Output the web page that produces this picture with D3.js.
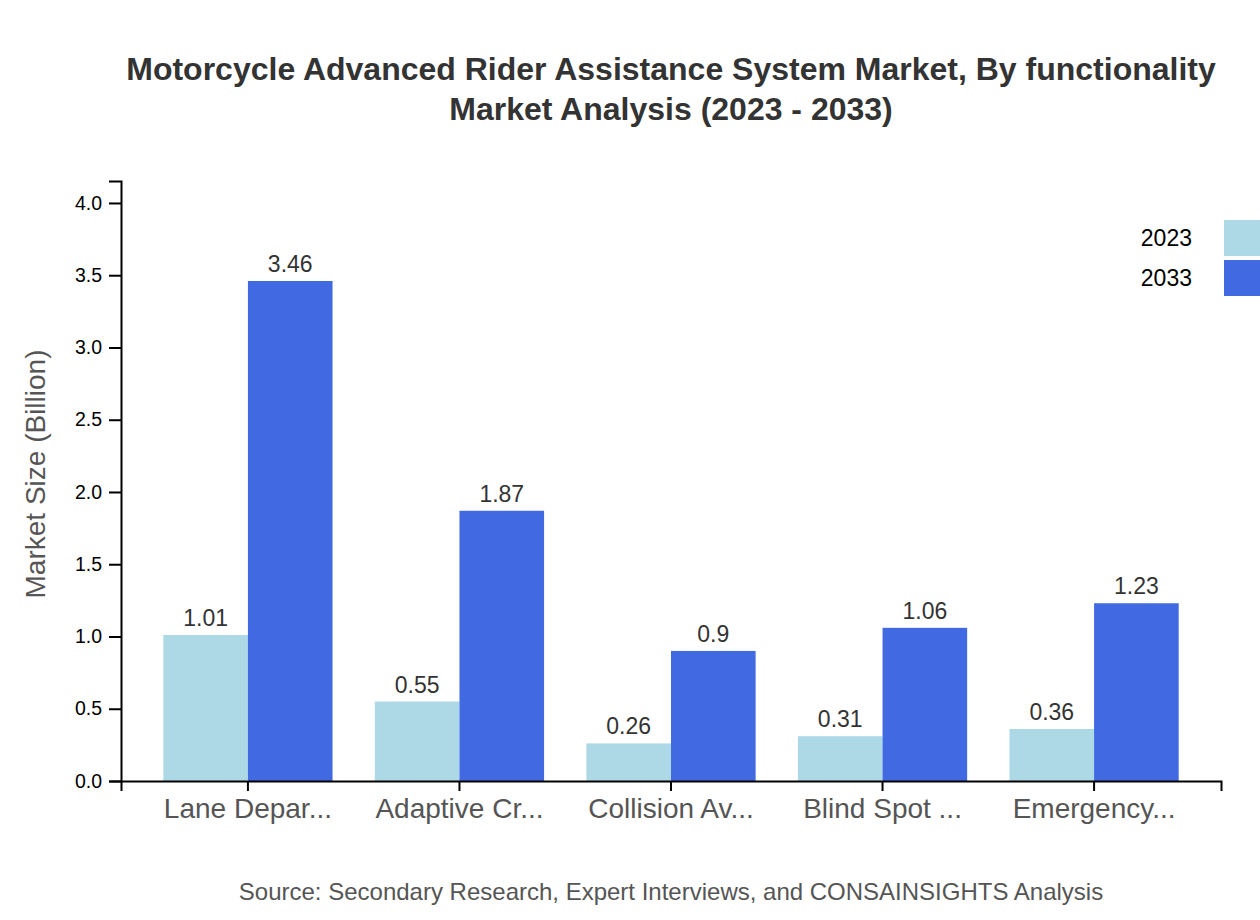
<!DOCTYPE html>
<html lang="en">
<head>
    <meta charset="UTF-8">
    <script src="https://d3js.org/d3.v7.min.js"></script>
    <style>
        body { margin: 0; background: #fff; font-family: 'Liberation Sans', Arial, sans-serif; }
        #chart { width: 1260px; height: 920px; overflow: hidden; }
    </style>
</head>
<body>
    <div id="chart"></div>
    <script>
        // Dados do gráfico
        const categories = ["Lane Depar...", "Adaptive Cr...", "Collision Av...", "Blind Spot ...", "Emergency..."];
        const years = ["2023", "2033"];
        const values2023 = [1.01, 0.55, 0.26, 0.31, 0.36];
        const values2033 = [3.46, 1.87, 0.9, 1.06, 1.23];
        const colors = ["#ADD8E6", "#4169E1"];
        const yTicks = [0, 0.5, 1.0, 1.5, 2.0, 2.5, 3.0, 3.5, 4.0];

        const width = 1260, height = 920;
        const margin = { top: 181, right: 39, bottom: 139, left: 121 };
        const innerW = width - margin.left - margin.right;
        const innerH = height - margin.top - margin.bottom;
        const font = "'Liberation Sans', Arial, sans-serif";

        const svg = d3.select("#chart").append("svg")
            .attr("width", width)
            .attr("height", height);

        const g = svg.append("g")
            .attr("transform", `translate(${margin.left},${margin.top})`);

        const series = [values2023, values2033];
        const maxVal = d3.max(values2033.concat(values2023));

        const x0 = d3.scaleBand().domain(categories).range([0, innerW]).padding(0.2);
        const x1 = d3.scaleBand().domain(years).range([0, x0.bandwidth()]);
        const y = d3.scaleLinear().domain([0, maxVal * 1.2]).range([innerH, 0]);

        // Barras
        const groups = g.selectAll(".group")
            .data(categories)
            .enter().append("g")
            .attr("transform", d => `translate(${x0(d)},0)`);

        groups.selectAll("rect")
            .data((d, i) => years.map((yr, k) => ({ yr, v: series[k][i], k })))
            .enter().append("rect")
            .attr("x", d => x1(d.yr))
            .attr("y", d => y(d.v))
            .attr("width", x1.bandwidth())
            .attr("height", d => innerH - y(d.v))
            .attr("fill", d => colors[d.k]);

        groups.selectAll("text.val")
            .data((d, i) => years.map((yr, k) => ({ yr, v: series[k][i], k })))
            .enter().append("text")
            .attr("class", "val")
            .attr("x", d => x1(d.yr) + x1.bandwidth() / 2)
            .attr("y", d => y(d.v) - 9)
            .attr("text-anchor", "middle")
            .attr("font-size", "23px")
            .attr("fill", "#333")
            .text(d => d.v);

        // Eixos
        const xAxis = g.append("g")
            .attr("transform", `translate(0,${innerH})`)
            .call(d3.axisBottom(x0).tickSize(10).tickPadding(3));
        xAxis.selectAll("path, line").attr("stroke", "#000").attr("stroke-width", 2);
        xAxis.selectAll("text")
            .attr("font-size", "28px")
            .attr("fill", "#555")
            .attr("dy", "24px")
            .style("font-family", font);

        const yAxis = g.append("g")
            .call(d3.axisLeft(y).tickValues(yTicks).tickFormat(d3.format(".1f")).tickSize(12).tickPadding(7));
        yAxis.selectAll("path, line").attr("stroke", "#000").attr("stroke-width", 2);
        yAxis.selectAll("text")
            .attr("font-size", "19.5px")
            .attr("fill", "#000")
            .style("font-family", font);

        // Título
        const cx = margin.left + innerW / 2;
        const title = svg.append("text")
            .attr("x", cx)
            .attr("y", 80)
            .attr("text-anchor", "middle")
            .attr("font-size", "32px")
            .attr("font-weight", "bold")
            .attr("fill", "#333");
        title.append("tspan").attr("x", cx).text("Motorcycle Advanced Rider Assistance System Market, By functionality");
        title.append("tspan").attr("x", cx).attr("dy", 40).text("Market Analysis (2023 - 2033)");

        // Rótulo eixo Y
        svg.append("text")
            .attr("transform", "translate(45,474) rotate(-90)")
            .attr("text-anchor", "middle")
            .attr("font-size", "28px")
            .attr("fill", "#555")
            .text("Market Size (Billion)");

        // Fonte
        svg.append("text")
            .attr("x", cx)
            .attr("y", 900)
            .attr("text-anchor", "middle")
            .attr("font-size", "24px")
            .attr("fill", "#555")
            .text("Source: Secondary Research, Expert Interviews, and CONSAINSIGHTS Analysis");

        // Legenda
        const legend = svg.append("g").attr("transform", "translate(1224,220)");
        years.forEach((yr, k) => {
            legend.append("rect")
                .attr("x", 0)
                .attr("y", k * 40)
                .attr("width", 36)
                .attr("height", 36)
                .attr("fill", colors[k]);
            legend.append("text")
                .attr("x", -32)
                .attr("y", k * 40 + 18)
                .attr("dy", "0.35em")
                .attr("text-anchor", "end")
                .attr("font-size", "23px")
                .attr("fill", "#000")
                .text(yr);
        });
    </script>
</body>
</html>
